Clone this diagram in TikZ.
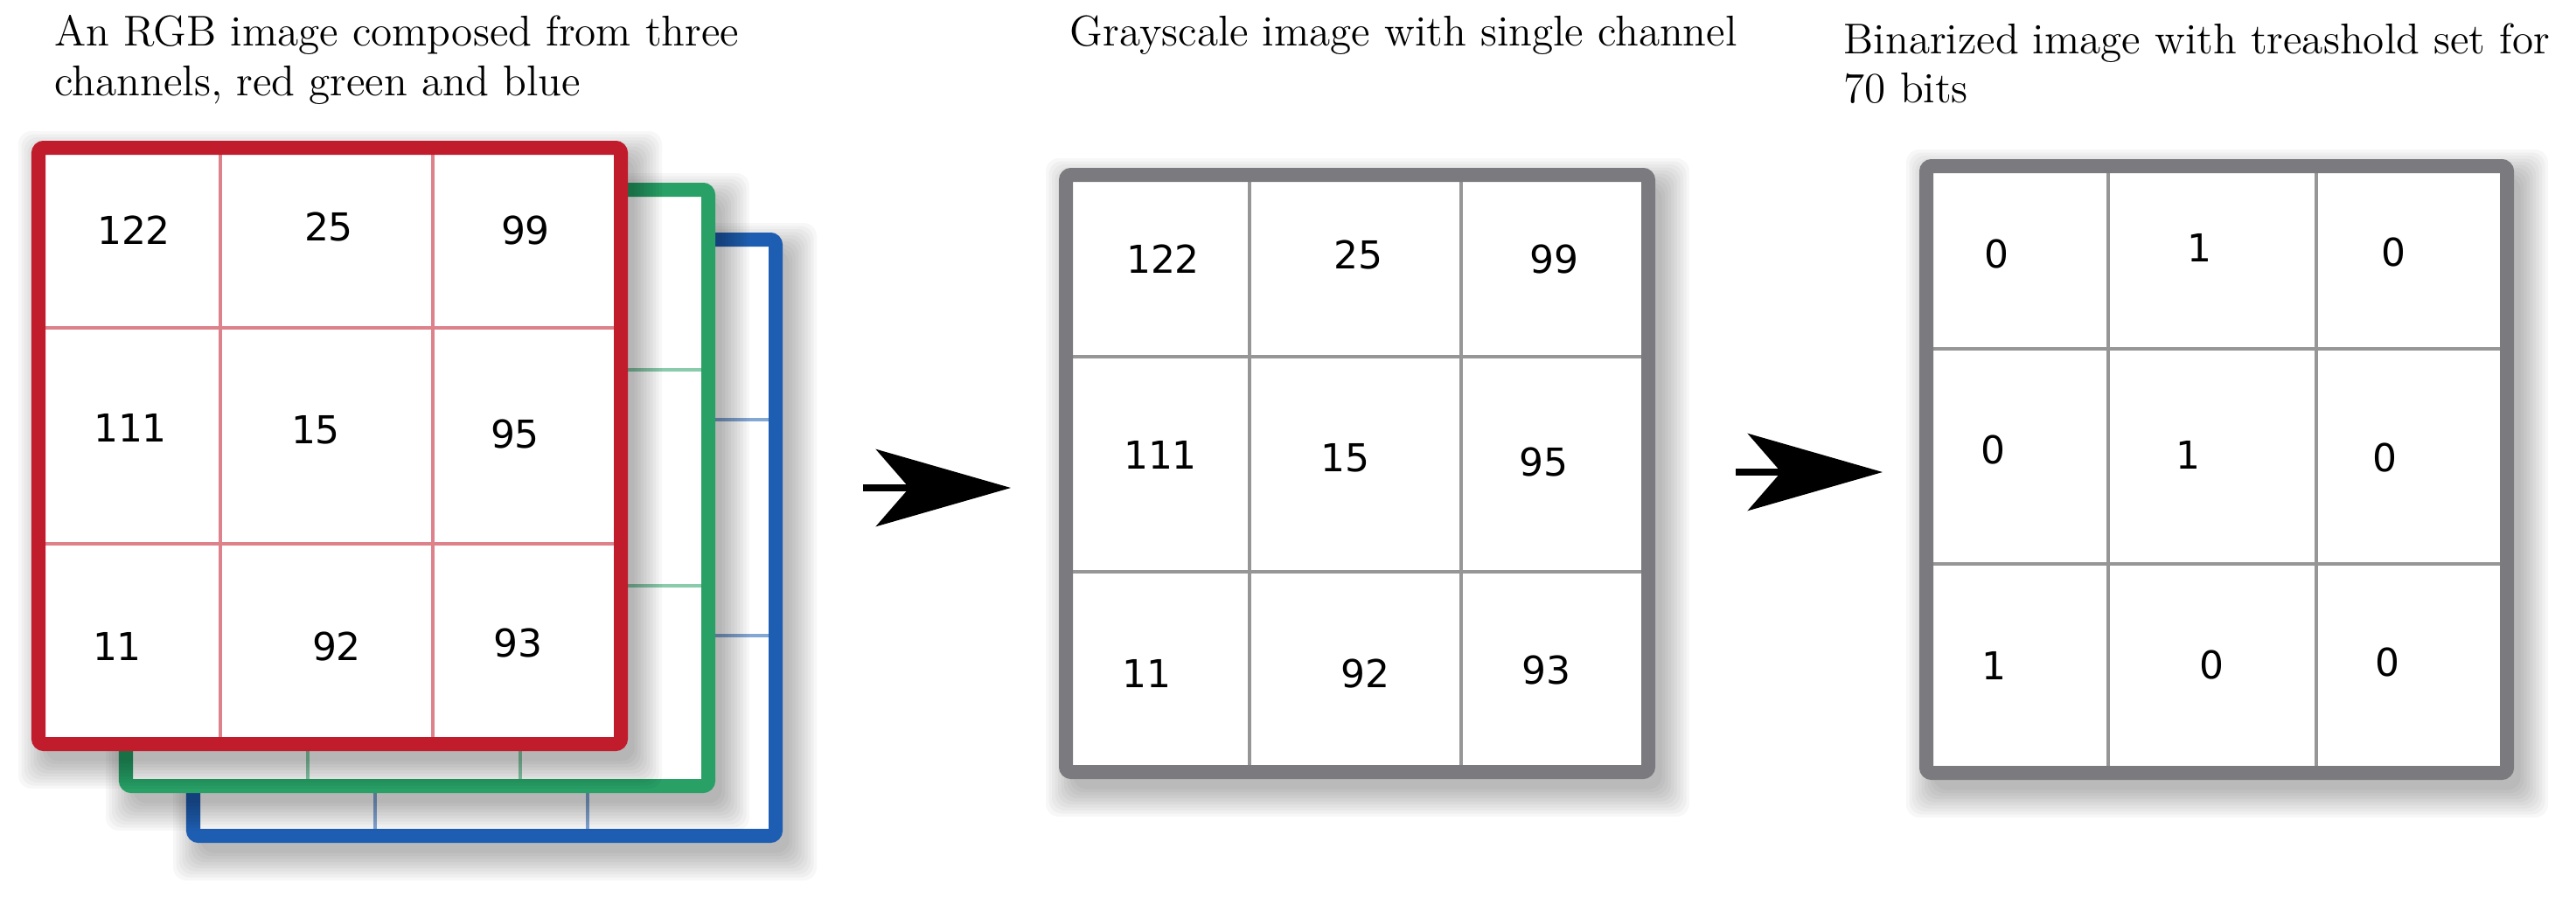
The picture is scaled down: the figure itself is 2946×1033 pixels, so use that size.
\documentclass[tikz,border=0pt]{standalone}
\usepackage{fontspec}
\newfontfamily\cellfont{DejaVu Sans}
\usetikzlibrary{arrows.meta,positioning}

\definecolor{chred}{RGB}{193,28,44}
\definecolor{chgreen}{RGB}{40,160,102}
\definecolor{chblue}{RGB}{30,94,178}
\definecolor{framegray}{RGB}{122,122,127}
\definecolor{gridgray}{RGB}{150,150,150}

\tikzset{
  panel/.style={line width=0.16cm, rounded corners=0.06cm},
  gridline/.style={line width=0.04cm},
  cell/.style={font=\cellfont\fontsize{12.5}{14}\selectfont, inner sep=0pt},
  caption/.style={font=\fontsize{14}{16}\selectfont, inner sep=0pt,
    align=left, anchor=north west},
  convert/.style={line width=0.08cm,
    -{Stealth[length=1.54cm, width=0.88cm, inset=0.38cm]}},
}

% soft shadow below a panel of size #1 x #2
\newcommand{\panelshadow}[2]{%
  \foreach \k in {1,...,10}
    \fill[black, opacity=0.032, rounded corners=0.15cm]
      (12-\k*3.5, 16-\k*3.5) rectangle (#1+12+\k*3.5, #2+16+\k*3.5);
}

\begin{document}
\begin{tikzpicture}[x=0.01cm, y=-0.01cm]
  \useasboundingbox (0,0) rectangle (2946,1033);

  % RGB stack: blue, green, red
  \foreach \dx/\dy/\col in {177/105/chblue, 100/48/chgreen, 0/0/chred}{
    \begin{scope}[shift={(44+\dx,169+\dy)}]
      \panelshadow{666}{682}
      \fill[white] (0,0) rectangle (666,682);
      \draw[gridline, \col!55] (208,0) -- (208,682) (451,0) -- (451,682)
        (0,206) -- (666,206) (0,453) -- (666,453);
      \draw[panel, \col] (0,0) rectangle (666,682);
    \end{scope}
  }
  \foreach \val/\px/\py [count=\n] in {122/109/94, 25/332/90, 99/557/94,
      111/105/320, 15/317/323, 95/545/327, 11/90/570, 92/341/570, 93/548/566}
    \node[cell] (red-\n) at (44+\px,169+\py) {\val};

  % grayscale
  \begin{scope}[shift={(1219,200)}]
    \panelshadow{666}{683}
    \fill[white] (0,0) rectangle (666,683);
    \draw[gridline, gridgray] (210,0) -- (210,683) (452,0) -- (452,683)
      (0,208) -- (666,208) (0,454) -- (666,454);
    \draw[panel, framegray] (0,0) rectangle (666,683);
  \end{scope}
  \foreach \val/\px/\py [count=\n] in {122/111/96, 25/334/91, 99/558/96,
      111/108/320, 15/319/324, 95/546/328, 11/92/570, 92/342/570, 93/549/566}
    \node[cell] (gray-\n) at (1219+\px,200+\py) {\val};

  % binarized
  \begin{scope}[shift={(2203,190)}]
    \panelshadow{664}{694}
    \fill[white] (0,0) rectangle (664,694);
    \draw[gridline, gridgray] (208,0) -- (208,694) (446,0) -- (446,694)
      (0,209) -- (664,209) (0,455) -- (664,455);
    \draw[panel, framegray] (0,0) rectangle (664,694);
  \end{scope}
  \foreach \val/\px/\py [count=\n] in {0/80/100, 1/312/93, 0/534/98,
      0/76/324, 1/299/330, 0/524/333, 1/77/571, 0/326/570, 0/527/567}
    \node[cell] (bin-\n) at (2203+\px,190+\py) {\val};

  % arrows
  \coordinate (rgb-out) at (987,558);
  \coordinate (gray-in) at (1156,558);
  \coordinate (gray-out) at (1985,540);
  \coordinate (bin-in) at (2153,540);
  \draw[convert] (rgb-out) -- (gray-in);
  \draw[convert] (gray-out) -- (bin-in);

  % captions
  \node[caption] (cap-rgb) at (62,17)
    {An RGB image composed from three\\channels, red green and blue};
  \node[caption] (cap-gray) at (1223,17) {Grayscale image with single channel};
  \node[caption] (cap-bin) at (2108,26)
    {Binarized image with treashold set for\\70 bits};
\end{tikzpicture}
\end{document}
